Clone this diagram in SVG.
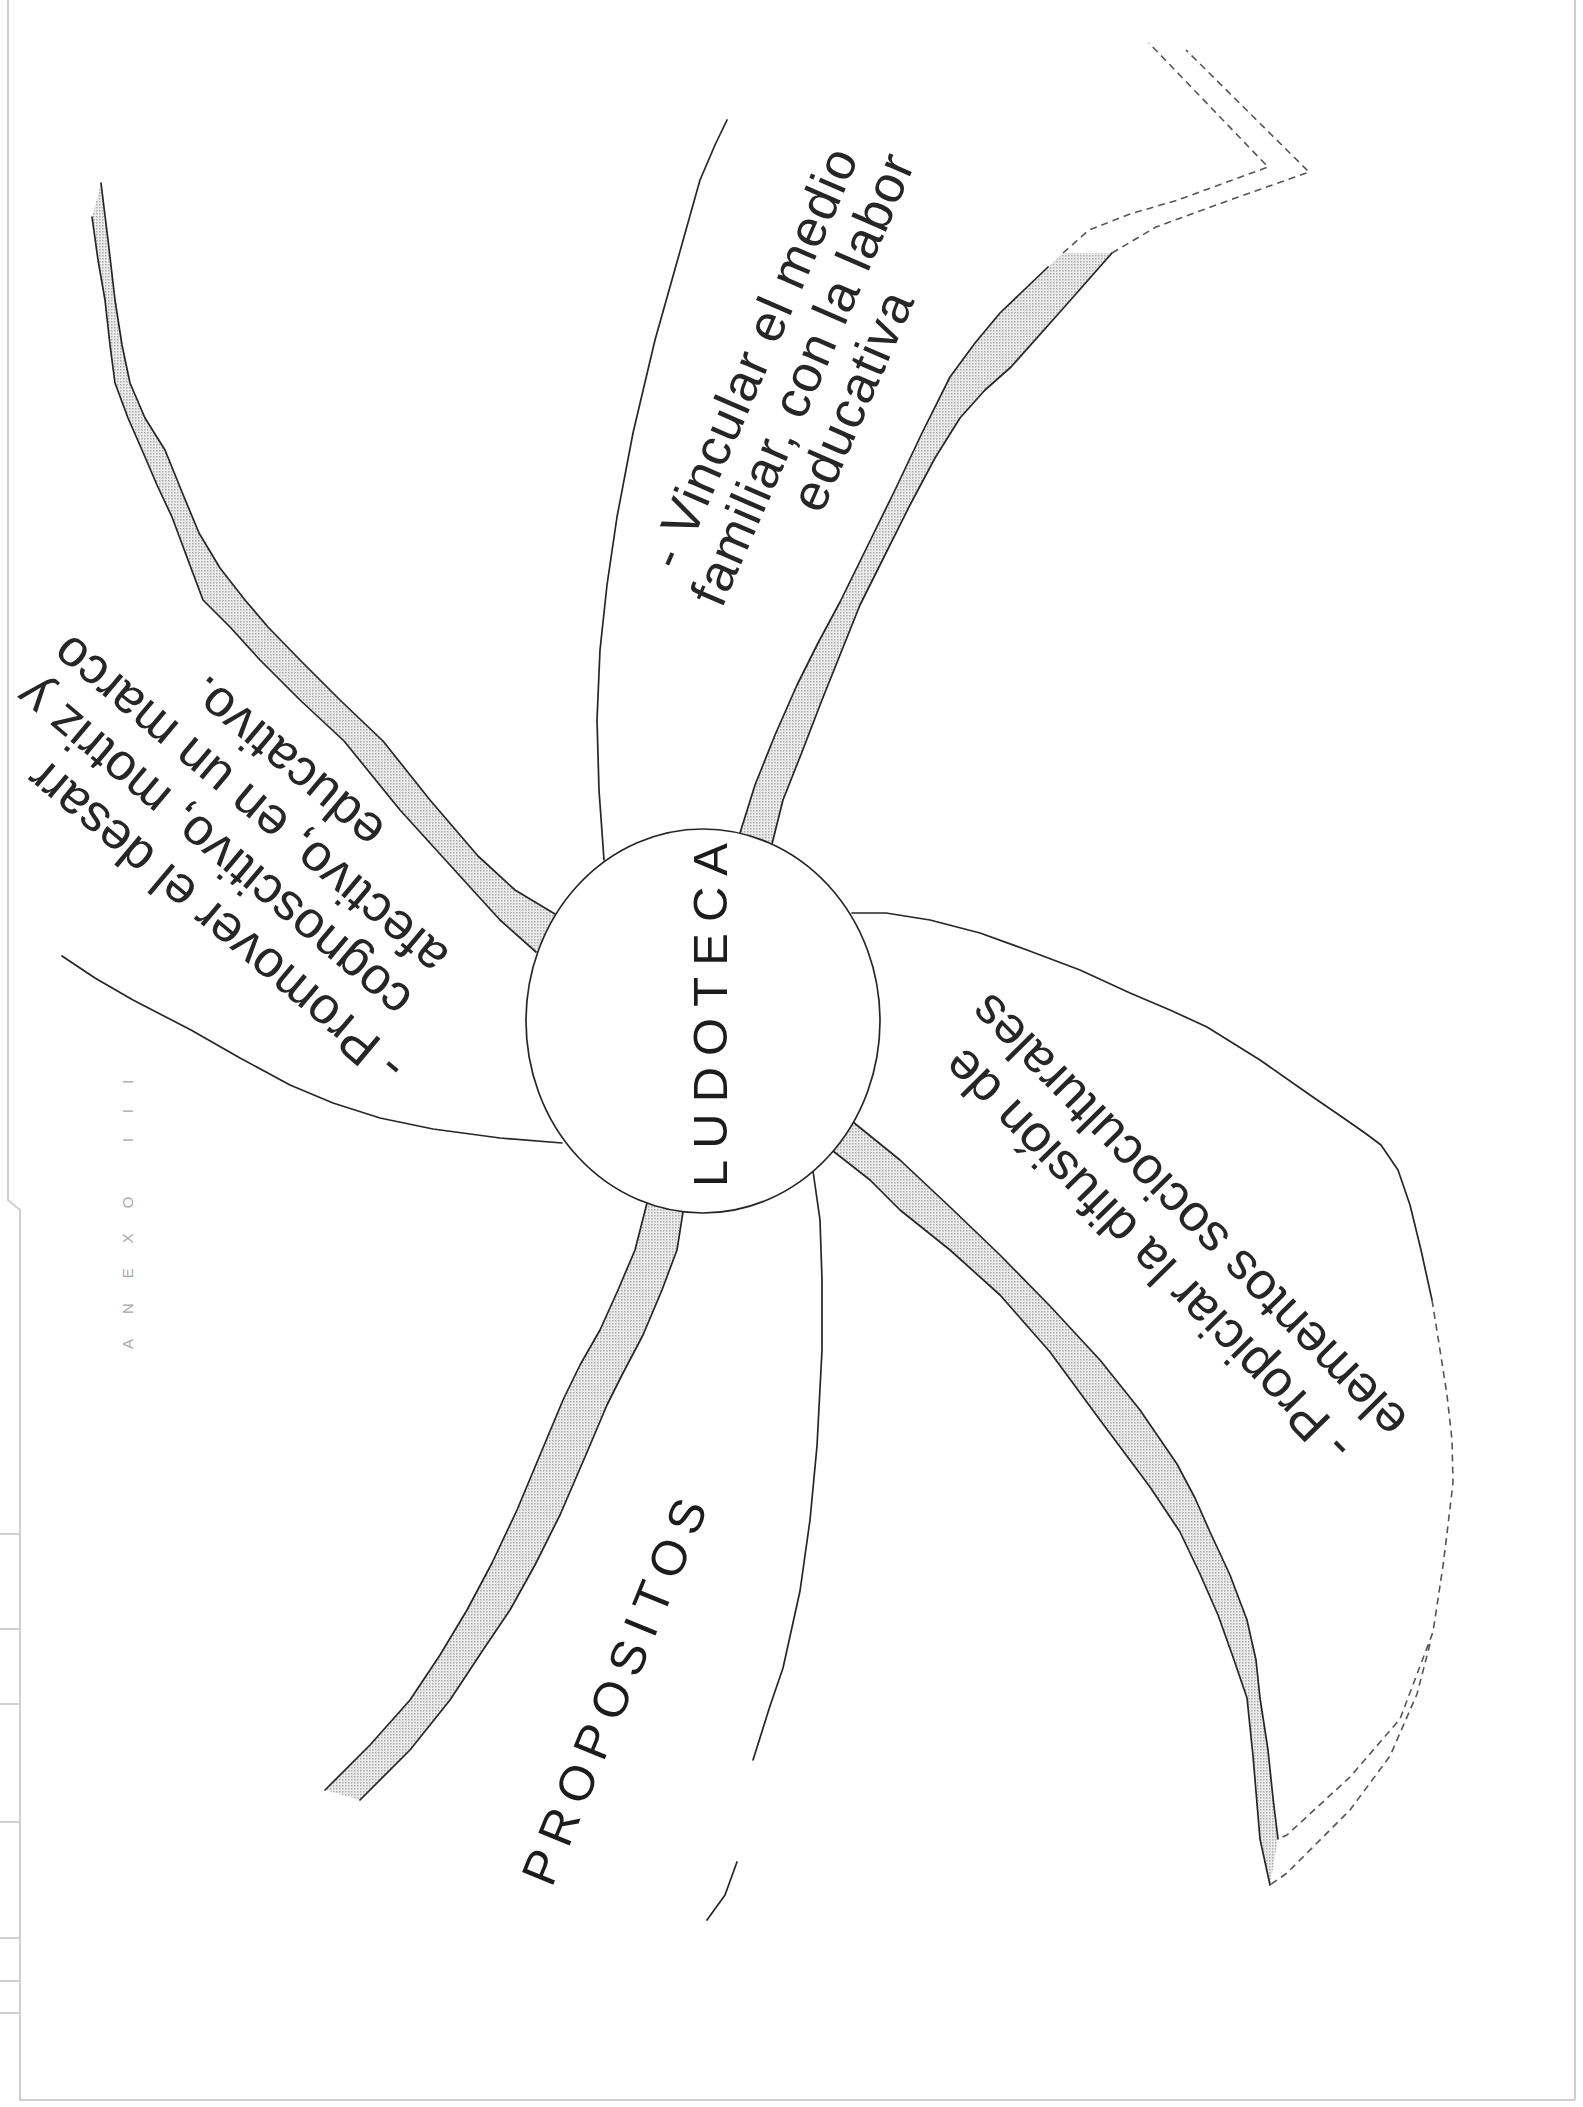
<svg xmlns="http://www.w3.org/2000/svg" width="1583" height="2107" viewBox="0 0 1583 2107">
<style>
.ln{fill:none;stroke:#262626;stroke-width:1.7;stroke-linejoin:round;stroke-linecap:round}
.dl{fill:none;stroke:#555;stroke-width:1.6;stroke-dasharray:7 5;stroke-linejoin:round}
.band{fill:url(#ht);stroke:none}
.tx{font-family:"Liberation Sans",Arial,sans-serif;font-size:52px;fill:#262626}
.big{font-family:"Liberation Sans",Arial,sans-serif;font-size:49px;fill:#1c1c1c}
.pg{fill:none;stroke:#cfcfcf;stroke-width:2}
</style>
<defs>
<pattern id="ht" width="3" height="3" patternUnits="userSpaceOnUse"><rect width="3" height="3" fill="#ececec"/><rect width="1.5" height="1.5" fill="#ababab"/></pattern>
</defs>
<rect width="1583" height="2107" fill="#fff"/>
<g id="page">
<path class="pg" d="M8,0 L8,1200 L20,1210 L20,2100 L1575,2100 M1575,0 L1575,2100"/>
<path class="pg" d="M0,1534 H20 M0,1629 H20 M0,1704 H20 M0,1822 H20 M0,1938 H20 M0,1981 H20 M0,2013 H20"/>
<text transform="translate(133,1349) rotate(-90)" font-family="Liberation Sans,Arial,sans-serif" font-size="15" letter-spacing="25" fill="#a8a8a8">ANEXO III</text>
</g>
<g id="connectors">
<path class="band" d="M740,833 L755,785 L775,735 L797,685 L818,643 L840,602 L868,545 L895,490 L922,433 L950,377 L975,343 L1000,313 L1024,290 L1048,267 L1063,253 L1112,253 L1011,367 L985,390 L960,418 L935,458 L910,505 L885,555 L860,605 L842,650 L822,700 L802,752 L783,800 L772,844 Z"/>
<path class="band" d="M853,1122 L900,1160 L950,1207 L1000,1255 L1050,1306 L1100,1360 L1140,1410 L1177,1464 L1195,1498 L1210,1532 L1230,1575 L1247,1620 L1256,1660 L1260,1698 L1268,1750 L1273,1798 L1278,1839 L1270,1885 L1260,1839 L1253,1756 L1247,1698 L1233,1657 L1218,1615 L1200,1574 L1180,1532 L1150,1487 L1100,1420 L1050,1352 L1000,1295 L950,1250 L900,1210 L870,1180 L833,1151 Z"/>
<path class="band" d="M647,1203 L635,1250 L618,1290 L600,1330 L580,1365 L563,1400 L540,1455 L517,1510 L492,1563 L467,1610 L440,1655 L410,1700 L370,1745 L325,1790 L360,1800 L410,1750 L450,1700 L483,1650 L510,1610 L535,1565 L560,1515 L585,1457 L607,1405 L622,1375 L643,1335 L662,1290 L677,1250 L683,1212 Z"/>
<path class="band" d="M101,183 L108,240 L115,300 L122,345 L130,383 L145,418 L165,450 L182,492 L199,533 L220,568 L245,600 L268,627 L300,660 L340,700 L383,741 L430,800 L478,856 L515,890 L555,914 L536,952 L500,920 L459,875 L400,810 L344,741 L300,700 L260,660 L230,627 L203,600 L188,560 L172,517 L157,485 L142,450 L128,418 L115,383 L110,345 L105,300 L98,260 L92,217 Z"/>
<path class="ln" d="M604,860 L599,790 L597,720 L600,650 L607,585 L617,517 L633,433 L655,340 L677,262 L700,180 L715,145 L727,120"/>
<path class="ln" d="M740,833 L755,785 L775,735 L797,685 L818,643 L840,602 L868,545 L895,490 L922,433 L950,377 L975,343 L1000,313 L1024,290 L1048,267"/>
<path class="ln" d="M772,844 L783,800 L802,752 L822,700 L842,650 L860,605 L885,555 L910,505 L935,458 L960,418 L985,390 L1011,367 L1060,312 L1112,253"/>
<path class="dl" d="M1063,253 L1089,230 L1130,214 L1178,200 L1268,167 L1149,43 M1112,253 L1156,227 L1230,200 L1309,172 L1186,50"/>
<path class="ln" d="M852,913 L886,913 L930,920 L980,933 L1027,950 L1080,970 L1130,993 L1170,1010 L1207,1027 L1260,1060 L1310,1095 L1342,1117 L1365,1133 L1381,1145 L1398,1170 L1410,1205 L1421,1250 L1432,1300"/>
<path class="dl" d="M1432,1300 L1440,1350 L1447,1395 L1452,1440 L1453,1483 L1448,1525 L1443,1566 L1433,1632 L1400,1719 L1350,1777 L1287,1835 L1278,1839 M1430,1644 L1417,1694 L1390,1756 L1350,1810 L1287,1873 L1270,1885"/>
<path class="ln" d="M853,1122 L900,1160 L950,1207 L1000,1255 L1050,1306 L1100,1360 L1140,1410 L1177,1464 L1195,1498 L1210,1532 L1230,1575 L1247,1620 L1256,1660 L1260,1698 L1268,1750 L1273,1798 L1278,1839"/>
<path class="ln" d="M833,1151 L870,1180 L900,1210 L950,1250 L1000,1295 L1050,1352 L1100,1420 L1150,1487 L1180,1532 L1200,1574 L1218,1615 L1233,1657 L1247,1698 L1253,1756 L1260,1839 L1270,1885"/>
<path class="ln" d="M813,1171 L820,1220 L822,1280 L822,1350 L817,1446 L810,1520 L800,1591 L783,1668 L770,1706 L753,1760"/>
<path class="ln" d="M737,1862 L725,1895 L707,1920"/>
<path class="ln" d="M647,1203 L635,1250 L618,1290 L600,1330 L580,1365 L563,1400 L540,1455 L517,1510 L492,1563 L467,1610 L440,1655 L410,1700 L370,1745 L325,1790"/>
<path class="ln" d="M683,1212 L677,1250 L662,1290 L643,1335 L622,1375 L607,1405 L585,1457 L560,1515 L535,1565 L510,1610 L483,1650 L450,1700 L410,1750 L360,1800"/>
<path class="ln" d="M101,183 L108,240 L115,300 L122,345 L130,383 L145,418 L165,450 L182,492 L199,533 L220,568 L245,600 L268,627 L300,660 L340,700 L383,741 L430,800 L478,856 L515,890 L555,914"/>
<path class="ln" d="M92,217 L98,260 L105,300 L110,345 L115,383 L128,418 L142,450 L157,485 L172,517 L188,560 L203,600 L230,627 L260,660 L300,700 L344,741 L400,810 L459,875 L500,920 L536,952"/>
<path class="ln" d="M562,1143 L500,1138 L433,1129 L380,1118 L333,1103 L290,1085 L240,1058 L191,1030 L133,1000 L95,978 L62,956"/>
</g>
<g id="ludoteca">
<ellipse cx="703" cy="1021" rx="177" ry="192" fill="#fff" stroke="#262626" stroke-width="1.7"/>
<text class="big" transform="translate(727,1015) rotate(-90)" text-anchor="middle" textLength="344" lengthAdjust="spacing">LUDOTECA</text>
</g>
<g id="vincular">
<g transform="translate(769,365) rotate(-66.5)" text-anchor="middle">
<text class="tx" x="0" y="0" font-size="50" textLength="452" lengthAdjust="spacing">- Vincular el medio</text>
<text class="tx" x="0" y="54" font-size="50" textLength="486" lengthAdjust="spacing">familiar, con la labor</text>
<text class="tx" x="0" y="108" font-size="50" textLength="234" lengthAdjust="spacing">educativa</text>
</g>
</g>
<g id="propiciar">
<g transform="translate(1160,1244) rotate(225.5)" text-anchor="middle">
<text class="tx" x="0" y="0">- Propiciar la difusión de</text>
<text class="tx" x="0" y="57">elementos socioculturales</text>
</g>
</g>
<g id="promover">
<g transform="translate(189,878) rotate(220)" text-anchor="middle">
<text class="tx" x="-286" y="0" text-anchor="start">- Promover el desarr</text>
<text class="tx" x="0" y="56">cognoscitivo, motriz y</text>
<text class="tx" x="0" y="112">afectivo, en un marco</text>
<text class="tx" x="0" y="168">educativo.</text>
</g>
</g>
<g id="propositos">
<text class="big" transform="translate(630,1698) rotate(-67.7)" text-anchor="middle" textLength="412" lengthAdjust="spacing">PROPOSITOS</text>
</g>
</svg>
